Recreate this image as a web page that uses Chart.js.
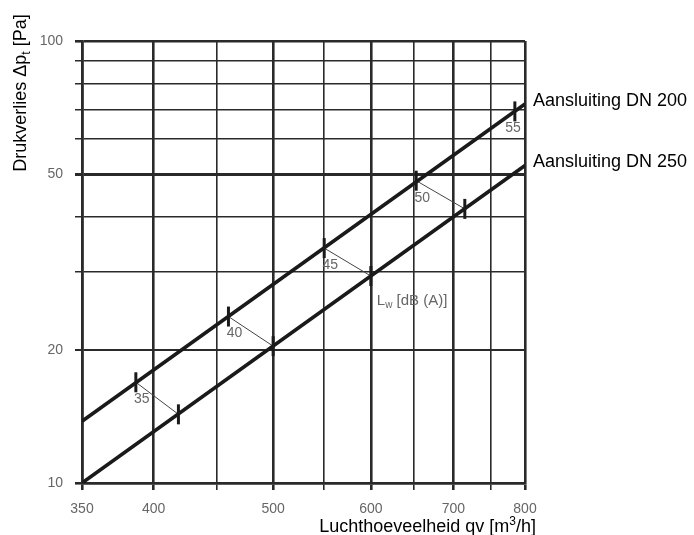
<!DOCTYPE html>
<html>
<head>
<meta charset="utf-8">
<title>Drukverlies</title>
<script src="https://cdn.jsdelivr.net/npm/chart.js@4.4.0/dist/chart.umd.min.js"></script>
<style>
  html, body { margin: 0; padding: 0; background: #fff; }
  #wrap { width: 694px; height: 535px; }
</style>
</head>
<body>
<div id="wrap"><canvas id="myChart" width="694" height="535"></canvas></div>
<script>
// characteristic lines (log-log, straight)
var flowDN200 = [350, 800];
var dpDN200 = [13.8, 72];
var flowDN250 = [350, 800];
var dpDN250 = [10, 52.3];

// sound power marks Lw [dB(A)]
var lwLevels = [35, 40, 45, 50, 55];
var lwFlow200 = [387, 460, 550, 653, 785];
var lwDp200 = [16.9, 23.8, 34, 48.3, 69.3];
var lwFlow250 = [419, 500, 600, 715];
var lwDp250 = [14.3, 20.4, 29.4, 41.7];

var xTicks = [350, 400, 450, 500, 550, 600, 650, 700, 750, 800];
var xLabels = [350, 400, 500, 600, 700, 800];
var yTicks = [10, 20, 30, 40, 50, 60, 70, 80, 90, 100];
var yLabels = [10, 20, 50, 100];

var lineColor = "#1a1a1a",
    gridColor = "#2a2a2a",
    labelGray = "#666",
    fontFamily = "'Liberation Sans', Arial, sans-serif";

function pts(xs, ys) {
  return xs.map(function(x, i) { return {x: x, y: ys[i]}; });
}

var datasets = [
  {data: pts(flowDN200, dpDN200), showLine: true, borderColor: lineColor, borderWidth: 3.6, pointRadius: 0},
  {data: pts(flowDN250, dpDN250), showLine: true, borderColor: lineColor, borderWidth: 3.6, pointRadius: 0}
];

// thin connectors between equal Lw marks
lwFlow250.forEach(function(q, i) {
  datasets.push({
    data: [{x: lwFlow200[i], y: lwDp200[i]}, {x: q, y: lwDp250[i]}],
    showLine: true, borderColor: "#444", borderWidth: 1, pointRadius: 0
  });
});

var markStyle = {
  showLine: false, pointStyle: "line", rotation: 90, pointRadius: 10,
  borderColor: lineColor, pointBorderWidth: 3, clip: false
};
datasets.push(Object.assign({data: pts(lwFlow200, lwDp200)}, markStyle));
datasets.push(Object.assign({data: pts(lwFlow250, lwDp250)}, markStyle));

var xMajor = function(v) { return v === 350 || v === 800 || v % 100 === 0; };

var textPlugin = {
  id: "texts",
  afterDatasetsDraw: function(chart) {
    var c = chart.ctx,
        xs = chart.scales.x,
        ys = chart.scales.y,
        area = chart.chartArea;
    c.save();

    // Lw numbers under the DN 200 marks
    c.fillStyle = labelGray;
    c.font = "14px " + fontFamily;
    c.textAlign = "center";
    c.textBaseline = "middle";
    lwLevels.forEach(function(lv, i) {
      var px = Math.min(xs.getPixelForValue(lwFlow200[i]) + 6, area.right - 12),
          py = ys.getPixelForValue(lwDp200[i]) + 17;
      c.fillText(String(lv), px, py);
    });

    // Lw [dB (A)] caption next to the 45 connector
    var lx = xs.getPixelForValue(lwFlow250[2]) + 6,
        ly = ys.getPixelForValue(lwDp250[2]) + 25;
    c.textAlign = "left";
    c.font = "15px " + fontFamily;
    c.fillText("L", lx, ly);
    var w = c.measureText("L").width;
    c.font = "10px " + fontFamily;
    c.fillText("w", lx + w, ly + 4);
    var w2 = c.measureText("w").width;
    c.font = "15px " + fontFamily;
    c.fillText(" [dB (A)]", lx + w + w2, ly);

    // line names on the right
    c.fillStyle = "#000";
    c.font = "18px " + fontFamily;
    c.fillText("Aansluiting DN 200", area.right + 8, ys.getPixelForValue(dpDN200[1]) - 3);
    c.fillText("Aansluiting DN 250", area.right + 8, ys.getPixelForValue(dpDN250[1]) - 3);

    // x axis title, right aligned with superscript
    c.textBaseline = "alphabetic";
    c.textAlign = "left";
    var parts = [["Luchthoeveelheid qv [m", 18, 0], ["3", 12, -7], ["/h]", 18, 0]];
    var total = 0;
    parts.forEach(function(p) { c.font = p[1] + "px " + fontFamily; total += c.measureText(p[0]).width; });
    var tx = 536 - total;
    parts.forEach(function(p) {
      c.font = p[1] + "px " + fontFamily;
      c.fillText(p[0], tx, 532 + p[2]);
      tx += c.measureText(p[0]).width;
    });

    // y axis title, rotated, with subscript t
    c.translate(26, 93);
    c.rotate(-Math.PI / 2);
    var yparts = [["Drukverlies \u0394p", 18, 0], ["t", 12, 4], [" [Pa]", 18, 0]];
    total = 0;
    yparts.forEach(function(p) { c.font = p[1] + "px " + fontFamily; total += c.measureText(p[0]).width; });
    tx = -total / 2;
    yparts.forEach(function(p) {
      c.font = p[1] + "px " + fontFamily;
      c.fillText(p[0], tx, p[2]);
      tx += c.measureText(p[0]).width;
    });
    c.restore();
  }
};

var ctx = document.getElementById("myChart").getContext("2d");
var myChart = new Chart(ctx, {
  type: "scatter",
  data: {datasets: datasets},
  options: {
    responsive: false,
    animation: false,
    events: [],
    layout: {padding: {top: 41, right: 169, bottom: 0, left: 0}},
    plugins: {legend: {display: false}, tooltip: {enabled: false}},
    elements: {line: {tension: 0}},
    scales: {
      x: {
        type: "logarithmic",
        min: 350,
        max: 800,
        afterBuildTicks: function(scale) {
          scale.ticks = xTicks.map(function(v) { return {value: v}; });
        },
        afterFit: function(scale) { scale.height = 52; },
        ticks: {
          autoSkip: false,
          maxRotation: 0,
          padding: 11,
          color: labelGray,
          font: {family: fontFamily, size: 14},
          callback: function(v) { return xLabels.indexOf(v) >= 0 ? String(v) : ""; }
        },
        grid: {
          color: gridColor,
          tickLength: 7,
          lineWidth: function(c) { return c.tick && xMajor(c.tick.value) ? 2.6 : 1.6; }
        },
        border: {color: gridColor, width: 2.6}
      },
      y: {
        type: "logarithmic",
        min: 10,
        max: 100,
        afterBuildTicks: function(scale) {
          scale.ticks = yTicks.map(function(v) { return {value: v}; });
        },
        afterFit: function(scale) { scale.width = 82; },
        ticks: {
          autoSkip: false,
          padding: 12,
          color: labelGray,
          font: {family: fontFamily, size: 14},
          callback: function(v) { return yLabels.indexOf(v) >= 0 ? String(v) : ""; }
        },
        grid: {
          color: gridColor,
          tickLength: 7,
          lineWidth: function(c) {
            if (!c.tick) return 1.5;
            var v = c.tick.value;
            if (v === 50) return 3;
            if (v === 10 || v === 100) return 2.6;
            if (v === 20) return 2;
            return 1.5;
          }
        },
        border: {color: gridColor, width: 2.6}
      }
    }
  },
  plugins: [textPlugin]
});
</script>
</body>
</html>
